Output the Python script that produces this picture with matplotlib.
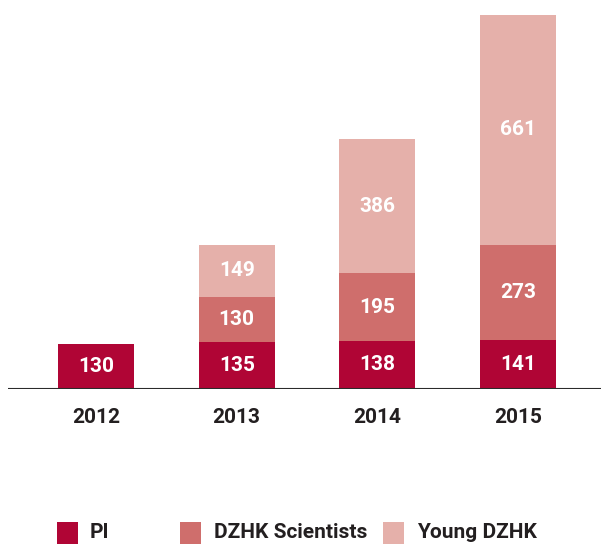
import matplotlib.pyplot as plt
from matplotlib.patches import Rectangle
from matplotlib import font_manager

years = ["2012", "2013", "2014", "2015"]
pi = [130, 135, 138, 141]
scientists = [0, 130, 195, 273]
young = [0, 149, 386, 661]
series_names = ["PI", "DZHK Scientists", "Young DZHK"]
colors = ["#B00535", "#CF6E6C", "#E5B0AA"]

names = {f.name for f in font_manager.fontManager.ttflist}
fam = "Liberation Sans Narrow" if "Liberation Sans Narrow" in names else "Roboto"
plt.rcParams["font.family"] = [fam, "DejaVu Sans"]
plt.rcParams["font.weight"] = "bold"

W, H = 601, 545
fig = plt.figure(figsize=(W / 100, H / 100), dpi=100)

# axes placed in pixels: baseline at y=389, top at y=15
x0, x1 = 8, 601
y_base, y_top = 389, 15
ax = fig.add_axes([x0 / W, (H - y_base) / H, (x1 - x0) / W, (y_base - y_top) / H])

step = 140.7
c0 = 96
ax.set_xlim(-(c0 - x0) / step, (x1 - c0) / step)
ax.set_ylim(0, 1075)

xs = list(range(len(years)))
bw = 76 / step
bottom = [0] * len(years)
for vals, col in zip([pi, scientists, young], colors):
    ax.bar(xs, vals, bw, bottom=bottom, color=col, linewidth=0)
    for x, v, b in zip(xs, vals, bottom):
        if v > 0:
            ax.text(x, b + v / 2, str(v), ha="center", va="center",
                    color="white", fontsize=15, fontweight="bold")
    bottom = [b + v for b, v in zip(bottom, vals)]

ax.axhline(0, color="#2b2b2b", linewidth=1.5)
for s in ax.spines.values():
    s.set_visible(False)
ax.set_yticks([])
ax.set_xticks(xs)
ax.set_xticklabels(years, fontsize=15, fontweight="bold", color="#231f20")
ax.tick_params(axis="x", length=0, pad=14)
ax.patch.set_alpha(0)

# legend
leg_sq = [57, 180, 383]
leg_tx = [90, 214, 417]
sq_top, sq_bot = 522, 544
for sx, tx, name, col in zip(leg_sq, leg_tx, series_names, colors):
    fig.add_artist(Rectangle((sx / W, (H - sq_bot) / H), 21 / W, (sq_bot - sq_top) / H,
                             transform=fig.transFigure, color=col, linewidth=0))
    fig.text(tx / W, (H - (sq_top + sq_bot) / 2) / H, name, ha="left", va="center",
             fontsize=15, fontweight="bold", color="#231f20")

fig.savefig("out.png", dpi=100)
